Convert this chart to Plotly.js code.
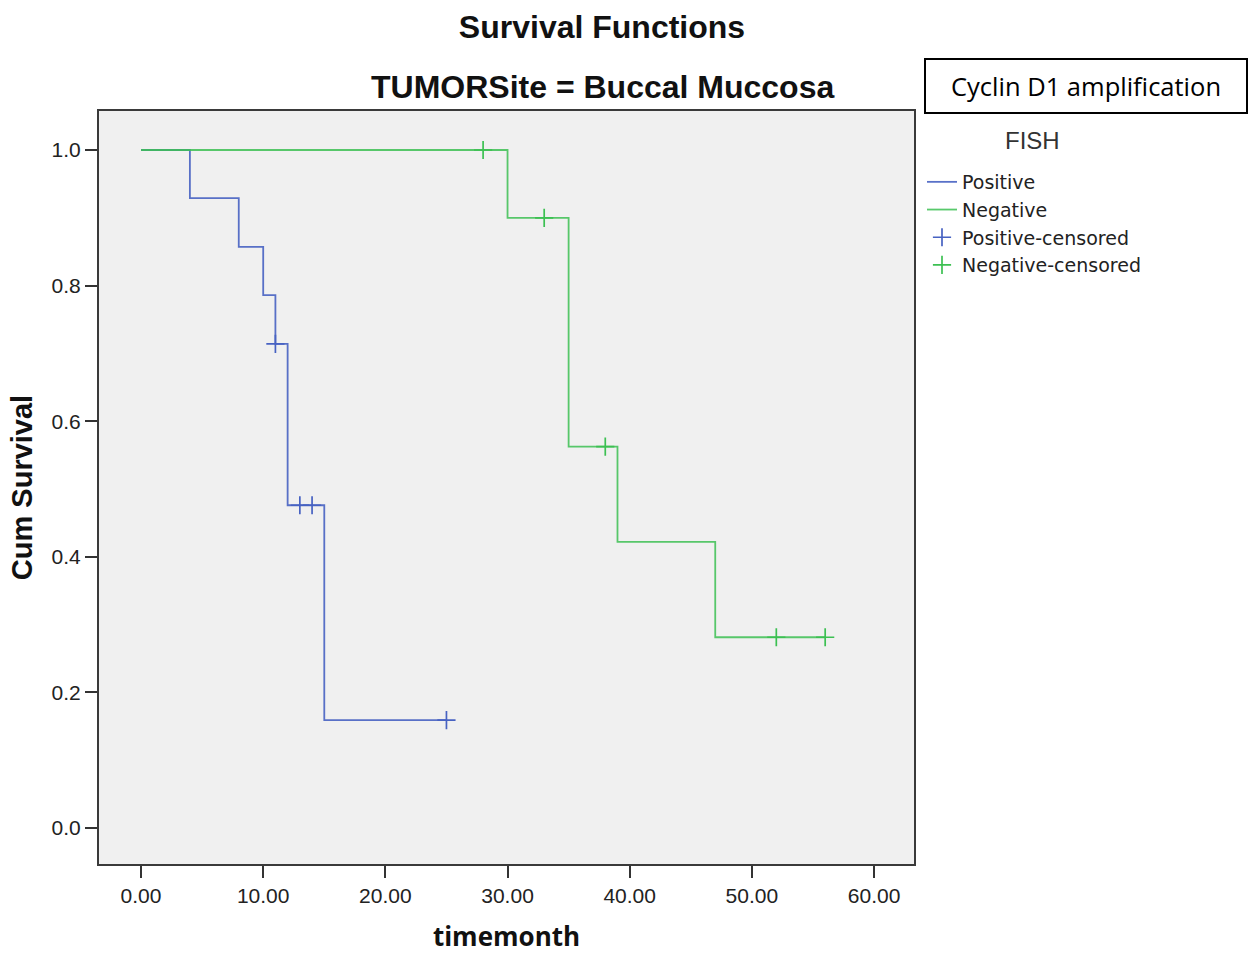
<!DOCTYPE html>
<html>
<head>
<meta charset="utf-8">
<script src="https://cdn.plot.ly/plotly-3.0.1.min.js"></script>
<style>html,body{margin:0;padding:0;background:#fff;}#chart{width:1251px;height:954px;}</style>
</head>
<body>
<div id="chart"></div>
<script>
// Kaplan-Meier step values
var posTimes = [0, 4, 8, 10, 11, 12, 15, 25];
var posSurv  = [1.0, 0.929, 0.857, 0.786, 0.714, 0.476, 0.159, 0.159];
var negTimes = [0, 30, 35, 39, 47, 56];
var negSurv  = [1.0, 0.9, 0.5625, 0.4219, 0.2813, 0.2813];
// censored observations
var posCensTimes = [11, 13, 14, 25];
var posCensSurv  = [0.714, 0.476, 0.476, 0.159];
var negCensTimes = [28, 33, 38, 52, 56];
var negCensSurv  = [1.0, 0.9, 0.5625, 0.2813, 0.2813];
var xTicks = [0, 10, 20, 30, 40, 50, 60];
var yTicks = [0.0, 0.2, 0.4, 0.6, 0.8, 1.0];

var blue = '#4762c2';
var green = '#3cc052';

var traces = [
  {x: posTimes, y: posSurv, mode: 'lines', line: {shape: 'hv', color: blue, width: 1.8}, opacity: 0.9, name: 'Positive'},
  {x: negTimes, y: negSurv, mode: 'lines', line: {shape: 'hv', color: green, width: 1.8}, opacity: 0.85, name: 'Negative'},
  {x: posCensTimes, y: posCensSurv, mode: 'markers', marker: {symbol: 'cross-thin-open', size: 13, color: blue, line: {color: blue, width: 1.7}}, name: 'Positive-censored'},
  {x: negCensTimes, y: negCensSurv, mode: 'markers', marker: {symbol: 'cross-thin-open', size: 13, color: green, line: {color: green, width: 1.7}}, name: 'Negative-censored'}
];

var L = 99, R = 914, T = 111, B = 864, W = 1251, H = 954;
var pw = R - L, ph = B - T;
function px(x){ return (x - L) / pw; }
function py(y){ return (B - y) / ph; }

var layout = {
  width: W, height: H,
  margin: {l: L, r: W - R, t: T, b: H - B, pad: 0},
  paper_bgcolor: '#ffffff',
  plot_bgcolor: '#f0f0f0',
  font: {family: 'Liberation Sans, Arial, sans-serif', color: '#222'},
  title: {text: 'Survival Functions', font: {size: 32, family: 'Liberation Sans, Arial, sans-serif', weight: 'bold', color: '#111'},
          xref: 'paper', x: px(602), xanchor: 'center', yref: 'container', y: 1 - 27 / H, yanchor: 'middle'},
  xaxis: {
    range: [-3.44, 63.27], tickvals: xTicks, tickformat: '.2f',
    ticks: 'outside', ticklen: 12, tickwidth: 2, tickcolor: '#333',
    showline: true, mirror: true, linecolor: '#3a3a3a', linewidth: 2,
    showgrid: false, zeroline: false,
    tickfont: {size: 21, color: '#222'},
    title: {text: 'timemonth', font: {size: 26, weight: 'bold', family: 'Open Sans, Liberation Sans, sans-serif', color: '#111'}, standoff: 29}
  },
  yaxis: {
    range: [-0.0531, 1.0575], tickvals: yTicks, tickformat: '.1f',
    ticks: 'outside', ticklen: 12, tickwidth: 2, tickcolor: '#333',
    showline: true, mirror: true, linecolor: '#3a3a3a', linewidth: 2,
    showgrid: false, zeroline: false,
    tickfont: {size: 21, color: '#222'},
    title: {text: 'Cum Survival', font: {size: 29, weight: 'bold', family: 'Liberation Sans, Arial, sans-serif', color: '#111'}, standoff: 10}
  },
  showlegend: true,
  legend: {
    x: px(922), xanchor: 'left', y: py(163), yanchor: 'top',
    bgcolor: 'rgba(0,0,0,0)', borderwidth: 0,
    font: {size: 19, color: '#222', family: 'DejaVu Sans, Liberation Sans, sans-serif'},
    itemwidth: 30, tracegroupgap: 0
  },
  annotations: [
    {text: 'TUMORSite = Buccal Muccosa', xref: 'paper', yref: 'paper', x: px(602), y: py(87), xanchor: 'center', yanchor: 'middle',
     showarrow: false, font: {size: 32, weight: 'bold', color: '#111', family: 'Liberation Sans, Arial, sans-serif'}},
    {text: 'FISH', xref: 'paper', yref: 'paper', x: px(1032), y: py(141), xanchor: 'center', yanchor: 'middle',
     showarrow: false, font: {size: 24, color: '#333', family: 'Liberation Sans, Arial, sans-serif'}},
    {text: 'Cyclin D1 amplification', xref: 'paper', yref: 'paper', x: px(1086), y: py(86), xanchor: 'center', yanchor: 'middle',
     showarrow: false, font: {size: 25.5, color: '#000', family: 'Open Sans, Noto Sans, sans-serif'},
     bordercolor: '#000', borderwidth: 2, borderpad: 0, width: 320, height: 52, bgcolor: '#fff'}
  ]
};

Plotly.newPlot('chart', traces, layout, {displayModeBar: false, staticPlot: true});
</script>
</body>
</html>
